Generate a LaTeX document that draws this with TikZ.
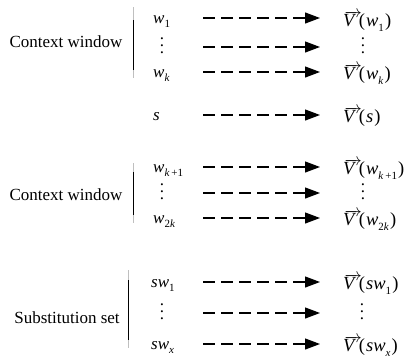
\documentclass[tikz,border=0pt]{standalone}
\usepackage{fontspec}
\setmainfont{Liberation Serif}
\usetikzlibrary{arrows.meta}
\newcommand{\sbs}[1]{\raisebox{-0.28em}{\fontsize{11}{11}\selectfont #1}}
\newcommand{\vecV}{\leavevmode\setbox0\hbox{\textit{V}}%
  \rlap{\kern0.08em\raisebox{\dimexpr\ht0-0.17em\relax}{\hbox to\wd0{\rightarrowfill}}}\box0\kern0.14em}
\newcommand{\pp}[1]{(\kern0.06em#1\kern0.06em)}
\newcommand{\mydots}{\vbox{\baselineskip7pt\lineskiplimit0pt\hbox{.}\hbox{.}\hbox{.}}}
\tikzset{
  txt/.style={font=\fontsize{17}{20}\selectfont, inner sep=0pt},
  lw/.style={txt, anchor=base west},
  rv/.style={font=\fontsize{18.5}{22}\selectfont, inner sep=0pt, anchor=base west},
  dts/.style={txt, anchor=center},
  grp/.style={txt, anchor=base},
  dasharr/.style={line width=1.2pt, dash pattern=on 12pt off 6pt,
    -{Triangle[length=15pt,width=11pt]}},
  brk/.style={line width=1pt},
  brkthin/.style={line width=0.4pt, gray!50}
}
\begin{document}
\begin{tikzpicture}[x=1pt,y=-1pt]
\useasboundingbox (0,0) rectangle (413,362);
% left column
\node[lw] (w1) at (153,23) {\textit{w}\sbs{1}};
\node[dts] (ld1) at (162,46) {\mydots};
\node[lw] (wk) at (153,77) {\textit{w}\sbs{\textit{k}}};
\node[lw] (s) at (153,120) {\textit{s}};
\node[lw] (wk1) at (153,172) {\textit{w}\sbs{\textit{k}\,+1}};
\node[dts] (ld2) at (162,192) {\mydots};
\node[lw] (w2k) at (153,223) {\textit{w}\sbs{2\textit{k}}};
\node[lw] (sw1) at (151,287) {\textit{sw}\sbs{1}};
\node[dts] (ld3) at (162,312) {\mydots};
\node[lw] (swx) at (151,349) {\textit{sw}\sbs{\textit{x}}};
% right column
\node[rv] (v1) at (343,26) {\vecV\pp{\textit{w}\sbs{1}}};
\node[dts] (rd1) at (363,46) {\mydots};
\node[rv] (vk) at (343,79) {\vecV\pp{\textit{w}\sbs{\textit{k}}}};
\node[rv] (vs) at (343,122) {\vecV\pp{\textit{s}}};
\node[rv] (vk1) at (343,174) {\vecV\pp{\textit{w}\sbs{\textit{k}\,+1}}};
\node[dts] (rd2) at (363,192) {\mydots};
\node[rv] (v2k) at (343,225) {\vecV\pp{\textit{w}\sbs{2\textit{k}}}};
\node[rv] (vsw1) at (343,289) {\vecV\pp{\textit{sw}\sbs{1}}};
\node[dts] (rd3) at (362,312) {\mydots};
\node[rv] (vswx) at (343,351) {\vecV\pp{\textit{sw}\sbs{\textit{x}}}};
% group labels
\node[grp] (cw1) at (66,47) {Context window};
\node[grp] (cw2) at (66,200) {Context window};
\node[grp] (ss) at (67,323) {Substitution set};
% brackets
\draw[brkthin] (133,7) -- (133,78);
\draw[brk] (133,20) -- (133,70);
\draw[brkthin] (133,163) -- (133,223);
\draw[brk] (133,172) -- (133,215);
\draw[brkthin] (128,270) -- (128,348);
\draw[brk] (128,280) -- (128,340);
% arrow end points
\foreach \n/\y in {1/18,2/47,3/72,4/115,5/167,6/193,7/218,8/282,9/313,10/344}{
  \coordinate (a\n) at (203,\y);
  \coordinate (b\n) at (320,\y);
}
\foreach \n in {1,...,10}{
  \draw[dasharr] (a\n) -- (b\n);
}
\end{tikzpicture}
\end{document}
